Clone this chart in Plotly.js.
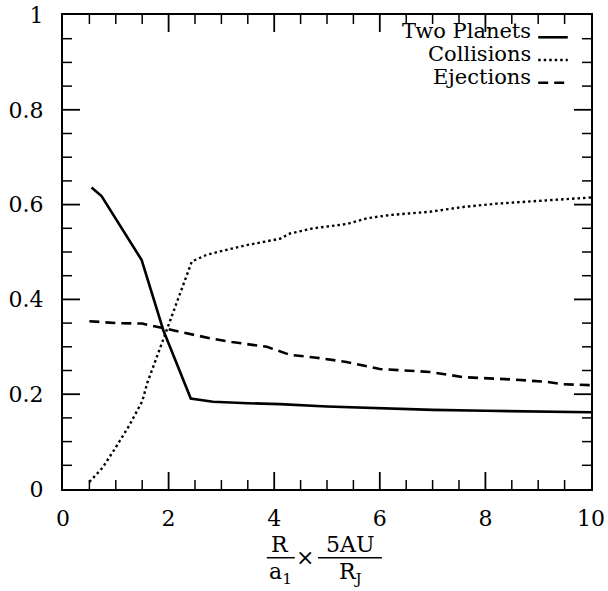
<!DOCTYPE html>
<html>
<head>
<meta charset="utf-8">
<script src="https://cdn.plot.ly/plotly-3.0.1.min.js"></script>
<style>
html,body{margin:0;padding:0;background:#fff;}
#chart{width:608px;height:591px;}
</style>
</head>
<body>
<div id="chart"></div>
<script>
// ---- data ----
const twoPlanetsX = [0.54, 0.73, 1.49, 1.9, 2.42, 2.84, 3.5, 4.11, 5, 6, 7, 8, 9, 10];
const twoPlanetsY = [0.636, 0.618, 0.483, 0.335, 0.191, 0.184, 0.181, 0.179, 0.174, 0.170, 0.167, 0.165, 0.163, 0.162];

const collisionsX = [0.5, 0.75, 1.0, 1.25, 1.5, 1.6, 2.44, 2.72, 3.0, 3.5, 4.11, 4.3, 4.74, 5.37, 5.75, 6.19, 6.95, 7.58, 8.21, 9.16, 10];
const collisionsY = [0.015, 0.045, 0.088, 0.133, 0.185, 0.225, 0.48, 0.494, 0.502, 0.515, 0.528, 0.539, 0.55, 0.559, 0.571, 0.578, 0.585, 0.595, 0.602, 0.609, 0.615];

const ejectionsX = [0.5, 1.0, 1.5, 1.9, 2.3, 2.78, 3.2, 3.86, 4.3, 4.8, 5.37, 5.75, 6.0, 6.95, 7.58, 8.53, 9.16, 9.48, 10];
const ejectionsY = [0.354, 0.350, 0.349, 0.339, 0.330, 0.318, 0.310, 0.300, 0.283, 0.277, 0.268, 0.258, 0.253, 0.247, 0.236, 0.231, 0.226, 0.221, 0.219];

const seriesNames = ["Two Planets", "Collisions", "Ejections"];

// tick positions
const xMajorTicks = [0, 2, 4, 6, 8, 10];
const yMajorTicks = [0, 0.2, 0.4, 0.6, 0.8, 1];
const xMinorStep = 0.5;
const yMinorStep = 0.05;

// ---- style ----
const FONT = "DejaVu Serif, Liberation Serif, serif";
const dashStyles = ["solid", "2.5px,3px", "10px,6px"];
const widths = [2.6, 2.4, 2.6];

const W = 608, H = 591;
const M = {l: 63, r: 17, t: 15, b: 102};
const plotW = W - M.l - M.r, plotH = H - M.t - M.b;
const MAJ = 17, MIN = 9;

const traces = [
  {x: twoPlanetsX, y: twoPlanetsY},
  {x: collisionsX, y: collisionsY},
  {x: ejectionsX, y: ejectionsY}
].map((d, i) => ({
  x: d.x, y: d.y, type: "scatter", mode: "lines", name: seriesNames[i],
  line: {color: "#000", width: widths[i], dash: dashStyles[i]},
  showlegend: false, hoverinfo: "skip"
}));

const xaxis = {
  range: [0, 10], tickmode: "array", tickvals: xMajorTicks, ticktext: xMajorTicks.map(String),
  showgrid: false, zeroline: false, showline: true, linecolor: "black", linewidth: 2,
  mirror: true, ticks: "", ticklabelstandoff: 9,
  tickfont: {family: FONT, size: 22, color: "black"}
};
const yaxis = {
  range: [0, 1], tickmode: "array", tickvals: yMajorTicks, ticktext: yMajorTicks.map(String),
  showgrid: false, zeroline: false, showline: true, linecolor: "black", linewidth: 2,
  mirror: true, ticks: "", ticklabelstandoff: 13,
  tickfont: {family: FONT, size: 22, color: "black"}
};

const shapes = [];
// axis ticks on all four sides, drawn inward
function xTick(v, len, w) {
  const f = len / plotH;
  shapes.push({type: "line", xref: "x", yref: "paper", x0: v, x1: v, y0: 0, y1: f, line: {color: "#000", width: w}, layer: "above"});
  shapes.push({type: "line", xref: "x", yref: "paper", x0: v, x1: v, y0: 1, y1: 1 - f, line: {color: "#000", width: w}, layer: "above"});
}
function yTick(v, len, w) {
  const f = len / plotW;
  shapes.push({type: "line", xref: "paper", yref: "y", x0: 0, x1: f, y0: v, y1: v, line: {color: "#000", width: w}, layer: "above"});
  shapes.push({type: "line", xref: "paper", yref: "y", x0: 1, x1: 1 - f, y0: v, y1: v, line: {color: "#000", width: w}, layer: "above"});
}
for (let k = 1; k * xMinorStep < 10; k++) {
  const v = k * xMinorStep;
  if (xMajorTicks.indexOf(v) >= 0) xTick(v, MAJ, 1.8); else xTick(v, MIN, 1.5);
}
for (let k = 1; k * yMinorStep < 0.999; k++) {
  const v = Math.round(k * yMinorStep * 100) / 100;
  if (yMajorTicks.indexOf(v) >= 0) yTick(v, MAJ, 1.8); else yTick(v, MIN, 1.5);
}

// legend drawn as text + sample lines (text left of the sample, as in the reference)
const legendTextY = [0.966, 0.918, 0.869];
const legendLineY = [0.953, 0.905, 0.857];
const annotations = [];
seriesNames.forEach((n, i) => {
  annotations.push({xref: "paper", yref: "paper", x: 0.89, y: legendTextY[i],
    xanchor: "right", yanchor: "middle", text: n, showarrow: false,
    font: {family: FONT, size: 21, color: "#000"}});
  shapes.push({type: "line", xref: "paper", yref: "paper",
    x0: 0.9, x1: 0.956, y0: legendLineY[i], y1: legendLineY[i],
    line: {color: "#000", width: widths[i], dash: dashStyles[i]}});
});

// x-axis title: (R / a1) x (5AU / RJ)
const tf = {family: FONT, size: 22, color: "#000"};
annotations.push(
  {xref: "paper", yref: "paper", x: 0.411, y: -0.118, text: "R", showarrow: false, font: tf, xanchor: "center", yanchor: "middle"},
  {xref: "paper", yref: "paper", x: 0.411, y: -0.178, text: "a<sub>1</sub>", showarrow: false, font: tf, xanchor: "center", yanchor: "middle"},
  {xref: "paper", yref: "paper", x: 0.458, y: -0.145, text: "×", showarrow: false, font: tf, xanchor: "center", yanchor: "middle"},
  {xref: "paper", yref: "paper", x: 0.544, y: -0.118, text: "5AU", showarrow: false, font: tf, xanchor: "center", yanchor: "middle"},
  {xref: "paper", yref: "paper", x: 0.544, y: -0.178, text: "R<sub>J</sub>", showarrow: false, font: tf, xanchor: "center", yanchor: "middle"}
);
shapes.push(
  {type: "line", xref: "paper", yref: "paper", x0: 0.386, x1: 0.439, y0: -0.145, y1: -0.145, line: {color: "#000", width: 1.5}},
  {type: "line", xref: "paper", yref: "paper", x0: 0.483, x1: 0.604, y0: -0.145, y1: -0.145, line: {color: "#000", width: 1.5}}
);

const layout = {
  width: W, height: H,
  margin: {l: M.l, r: M.r, t: M.t, b: M.b, pad: 0},
  paper_bgcolor: "#fff", plot_bgcolor: "#fff",
  xaxis: xaxis, yaxis: yaxis,
  annotations: annotations, shapes: shapes,
  showlegend: false
};

Plotly.newPlot("chart", traces, layout, {displayModeBar: false, staticPlot: true});
</script>
</body>
</html>
